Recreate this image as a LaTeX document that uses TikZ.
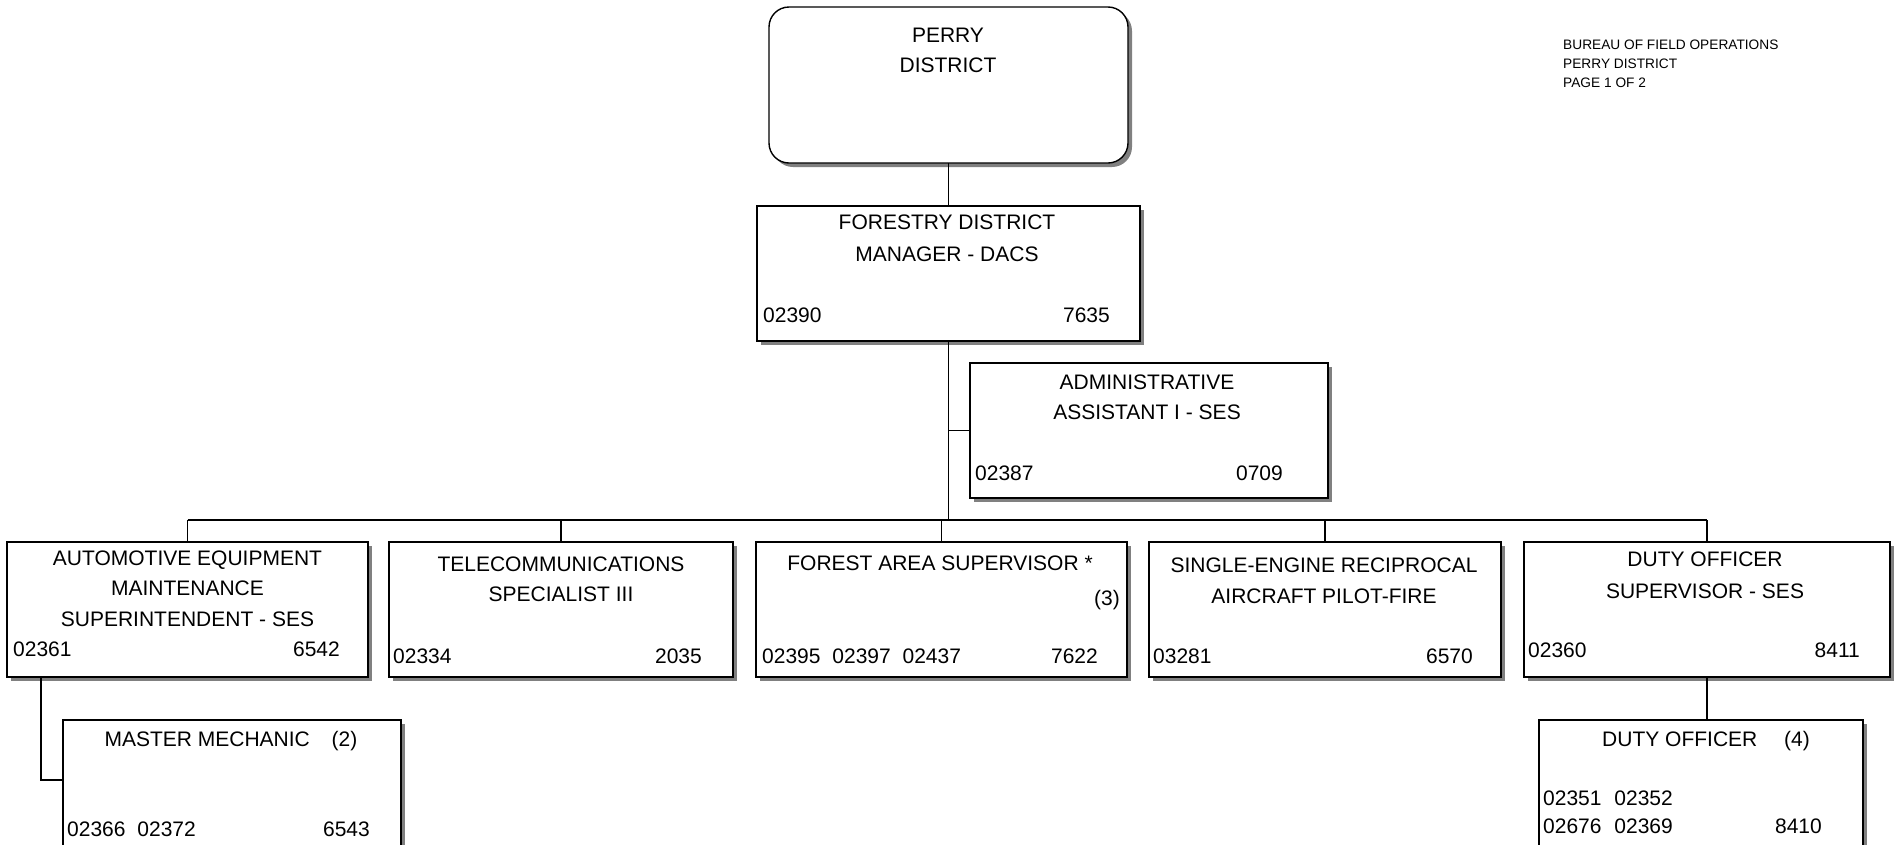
\documentclass[tikz,border=0pt]{standalone}
\usepackage{fontspec}
\setmainfont{Liberation Sans}
\usetikzlibrary{shadows}
\begin{document}
\begin{tikzpicture}[x=1pt,y=-1pt,
  box/.style={draw, line width=1.4pt, fill=white, inner sep=0pt, outer sep=0pt,
    drop shadow={shadow xshift=4pt, shadow yshift=-4pt, fill=black!50, opacity=1}},
  link/.style={line width=1.4pt},
  ttl/.style={font=\fontsize{21}{25}\selectfont, anchor=base, inner sep=0pt},
  numl/.style={font=\fontsize{21}{25}\selectfont, anchor=base west, inner sep=0pt},
  numr/.style={font=\fontsize{21}{25}\selectfont, anchor=base east, inner sep=0pt},
  hdr/.style={font=\fontsize{13.7}{16}\selectfont, anchor=base west, inner sep=0pt}]
\useasboundingbox (0,0) rectangle (1900,844);
\fill[white] (0,0) rectangle (1900,844);
\clip (0,0) rectangle (1900,844);

% boxes
\node[box, rounded corners=20pt, minimum width=359pt, minimum height=156pt] (perry) at (948.5,85) {};
\node[box, minimum width=383pt, minimum height=135pt] (fdm) at (948.5,273.5) {};
\node[box, minimum width=358pt, minimum height=135pt] (admin) at (1149,430.5) {};
\node[box, minimum width=361pt, minimum height=135pt] (auto) at (187.5,609.5) {};
\node[box, minimum width=344pt, minimum height=135pt] (telecom) at (561,609.5) {};
\node[box, minimum width=371pt, minimum height=135pt] (forest) at (941.5,609.5) {};
\node[box, minimum width=352pt, minimum height=135pt] (single) at (1325,609.5) {};
\node[box, minimum width=366pt, minimum height=135pt] (duty) at (1707,609.5) {};
\node[box, minimum width=338pt, minimum height=140pt] (mech) at (232,790) {};
\node[box, minimum width=324pt, minimum height=140pt] (duty4) at (1701,790) {};

% connectors
\coordinate (bus) at (0,520);
\coordinate (mechlead) at (41,0);
\draw[link] (perry.south) -- (fdm.north);
\draw[link] (fdm.south) -- (fdm.south |- bus);
\draw[link] (fdm.south |- admin.west) -- (admin.west);
\draw[link] (auto.north |- bus) -- (duty.north |- bus);
\foreach \b in {auto,telecom,forest,single,duty}
  \draw[link] (\b.north) -- (\b.north |- bus);
\draw[link] (auto.south -| mechlead) |- ([yshift=-60pt]mech.north west);
\draw[link] (duty.south) -- (duty.south |- duty4.north);

% header
\node[hdr] (h1) at (1563,49) {BUREAU OF FIELD OPERATIONS};
\node[hdr] (h2) at (1563,68) {PERRY DISTRICT};
\node[hdr] (h3) at (1563,87) {PAGE 1 OF 2};

% district
\node[ttl] (perry1) at (948,42.5) {PERRY};
\node[ttl] (perry2) at (948,72.5) {DISTRICT};

% manager
\node[ttl] (fdm1) at (947,229.5) {FORESTRY DISTRICT};
\node[ttl] (fdm2) at (947,261.5) {MANAGER - DACS};
\node[numl] (fdm3) at (763,322.5) {02390};
\node[numr] (fdm4) at (1110,322.5) {7635};

% administrative assistant
\node[ttl] (adm1) at (1147,389) {ADMINISTRATIVE};
\node[ttl] (adm2) at (1147,419) {ASSISTANT I - SES};
\node[numl] (adm3) at (975,480.5) {02387};
\node[numr] (adm4) at (1283,480.5) {0709};

% automotive
\node[ttl] (aut1) at (187.5,565.5) {AUTOMOTIVE EQUIPMENT};
\node[ttl] (aut2) at (187.5,595.5) {MAINTENANCE};
\node[ttl] (aut3) at (187.5,626.5) {SUPERINTENDENT - SES};
\node[numl] (aut4) at (13,656.5) {02361};
\node[numr] (aut5) at (340,656.5) {6542};

% telecommunications
\node[ttl] (tel1) at (561,571) {TELECOMMUNICATIONS};
\node[ttl] (tel2) at (561,601) {SPECIALIST III};
\node[numl] (tel3) at (393,663.5) {02334};
\node[numr] (tel4) at (702,663.5) {2035};

% forest area supervisor
\node[ttl] (for1) at (940,570.5) {FOREST AREA SUPERVISOR *};
\node[numr] (for2) at (1120,605) {(3)};
\node[numl] (for3) at (762,663.5) {02395\hspace{6pt} 02397\hspace{6pt} 02437};
\node[numr] (for4) at (1098,663.5) {7622};

% pilot
\node[ttl] (sin1) at (1324,572) {SINGLE-ENGINE RECIPROCAL};
\node[ttl] (sin2) at (1324,603.5) {AIRCRAFT PILOT-FIRE};
\node[numl] (sin3) at (1153,663.5) {03281};
\node[numr] (sin4) at (1473,663.5) {6570};

% duty officer supervisor
\node[ttl] (dut1) at (1705,566.5) {DUTY OFFICER};
\node[ttl] (dut2) at (1705,598) {SUPERVISOR - SES};
\node[numl] (dut3) at (1528,657.5) {02360};
\node[numr] (dut4) at (1860,657.5) {8411};

% master mechanic
\node[ttl] (mec1) at (231,746.5) {MASTER MECHANIC\hspace{16pt} (2)};
\node[numl] (mec2) at (67,836.5) {02366\hspace{6pt} 02372};
\node[numr] (mec3) at (370,836.5) {6543};

% duty officer
\node[ttl] (do1) at (1706,746.5) {DUTY OFFICER\hspace{21pt} (4)};
\node[numl] (do2) at (1543,805.5) {02351\hspace{7pt} 02352};
\node[numl] (do3) at (1543,833.5) {02676\hspace{7pt} 02369};
\node[numr] (do4) at (1822,833.5) {8410};
\end{tikzpicture}
\end{document}
